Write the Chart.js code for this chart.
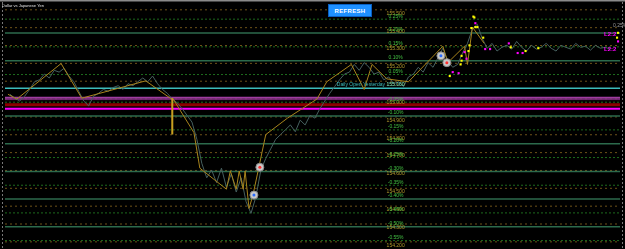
<!DOCTYPE html>
<html>
<head>
<meta charset="utf-8">
<script src="https://cdn.jsdelivr.net/npm/chart.js@4/dist/chart.umd.min.js"></script>
<style>
html,body{margin:0;padding:0;background:#000;overflow:hidden}
#wrap{position:relative;width:625px;height:249px}
#refresh{position:absolute;left:328px;top:4px;width:44px;height:13px;background:#1e90ff;color:#fff;
  font:bold 6px "Liberation Sans";text-align:center;line-height:13px;border:1px solid #0a5fc0;box-sizing:border-box;letter-spacing:0.3px}
</style>
</head>
<body>
<div id="wrap">
  <canvas id="chart" width="625" height="249"></canvas>
  <div id="refresh">REFRESH</div>
</div>
<script>
// USDJPY close prices, one every 5 time units starting at 5
const firstBar = 5, barStep = 5
const closePrices = [155.027,155.005,154.989,155.016,155.054,155.097,155.108,155.140,155.118,155.161,
  155.151,155.172,155.129,155.097,155.043,154.989,154.962,155.016,155.032,155.054,
  155.043,155.065,155.075,155.054,155.086,155.075,155.097,155.118,155.097,155.129,
  155.086,155.054,155.032,155.000,154.979,154.946,154.909,154.871,154.774,154.640,
  154.559,154.602,154.532,154.613,154.506,154.581,154.479,154.559,154.425,154.360,
  154.452,154.602,154.667,154.721,154.774,154.801,154.828,154.855,154.817,154.882,
  154.855,154.909,154.893,154.946,154.989,155.032,155.070,155.108,155.140,155.151,
  155.194,155.161,155.204,155.178,155.140,155.151,155.108,155.124,155.086,155.097,
  155.070,155.124,155.140,155.178,155.151,155.204,155.178,155.231,155.285,155.215,
  155.178,155.194,155.258,155.312,155.393,155.419,155.339,155.285,155.312,155.269,
  155.290,155.301,155.280,155.323,155.290,155.269,155.301,155.280,155.290,155.312,
  155.285,155.269,155.301,155.290,155.280,155.312,155.290,155.296,155.274,155.301,
  155.285,155.290,155.280]

// zigzag swing points
const zzTimes = [3,12,57,78,143,168,171,192,198,225,229,235,238,242,244,248,252,258,265,287,317,327,352,365,373,388,410,445,450,467,470,475,487]
const zzPrices = [155.027,155.000,155.199,155.005,155.102,155.005,155.000,154.812,154.613,154.495,154.597,154.495,154.597,154.495,154.597,154.387,154.462,154.618,154.801,154.893,155.000,155.097,155.194,155.054,155.194,155.113,155.097,155.296,155.204,155.296,155.194,155.403,155.312]

// spike bar
const spikeTimes = [170,170]
const spikePrices = [155.005,154.801]

// signal dots
const yellowTimes = [476,477,478,480,474,486,472,471,464,464,463,452,514,529,542,623,622]
const yellowPrices = [155.462,155.457,155.403,155.403,155.398,155.344,155.301,155.269,155.242,155.215,155.194,155.129,155.290,155.269,155.285,155.371,155.344]
const magentaTimes = [478,488,493,512,521,526,467,469,455,461,623]
const magentaPrices = [155.425,155.280,155.280,155.312,155.258,155.258,155.263,155.226,155.151,155.145,155.323]

// trade markers
const buyTimes = [443,253]
const buyPrices = [155.242,154.462]
const sellTimes = [449,259]
const sellPrices = [155.204,154.618]

// levels
const priceLevels = [155.5,155.4,155.3,155.2,155.1,155.0,154.9,154.8,154.7,154.6,154.5,154.4,154.3,154.2]
const dailyOpen = 155.060
const pctLevels = [0.25,0.20,0.15,0.10,0.05,-0.05,-0.10,-0.15,-0.20,-0.25,-0.30,-0.35,-0.40,-0.45,-0.50,-0.55]
const bandLevels = [155.008,154.997,154.968,154.946]
const bandColors = ['#a03ca0','#7a2a7a','#8c0000','#ff00ff']
const bandWidths = [2,1,3,2]

const xMin = 0, xMax = 625
const labelTime = 397

function pts(xs, ys){ return xs.map((x,i)=>({x:x, y:ys[i]})) }
function hline(y, color, width, dash){
  return {data:[{x:xMin,y:y},{x:xMax,y:y}], borderColor:color, borderWidth:width, borderDash:dash||[], pointRadius:0}
}

const datasets = []
datasets.push({data:pts(buyTimes,buyPrices), showLine:false, pointRadius:1.5, pointBackgroundColor:'#2a6cff', pointBorderWidth:0})
datasets.push({data:pts(sellTimes,sellPrices), showLine:false, pointRadius:1.5, pointBackgroundColor:'#ff3030', pointBorderWidth:0})
datasets.push({data:pts(buyTimes.concat(sellTimes),buyPrices.concat(sellPrices)), showLine:false, pointRadius:4, pointBackgroundColor:'#c8c8c8', pointBorderColor:'#8a8a8a', pointBorderWidth:1})
datasets.push({data:pts(yellowTimes,yellowPrices), showLine:false, pointStyle:'rect', pointRadius:1.5, pointBackgroundColor:'#ffff00', pointBorderWidth:0})
datasets.push({data:pts(magentaTimes,magentaPrices), showLine:false, pointStyle:'rect', pointRadius:1.5, pointBackgroundColor:'#ff00ff', pointBorderWidth:0})
datasets.push({data:pts(spikeTimes,spikePrices), borderColor:'#c8a020', borderWidth:2, pointRadius:0})
datasets.push({data:pts(zzTimes,zzPrices), borderColor:'#a8841c', borderWidth:1, pointRadius:0})
datasets.push({data:closePrices.map((p,i)=>({x:firstBar+i*barStep,y:p})), borderColor:'#46605f', borderWidth:1, pointRadius:0})
datasets.push(hline(dailyOpen,'#3cbcbc',1.5))
bandLevels.forEach((b,i)=>datasets.push(hline(b,bandColors[i],bandWidths[i])))
pctLevels.forEach(p=>{
  const lv = dailyOpen*(1+p/100)
  const whole = Math.abs(Math.round(p*100)) % 10 === 0
  if(whole) datasets.push(hline(lv,'#2c6a4c',1.5))
  else datasets.push(hline(lv,'#1d6a1d',1,[2,2]))
})
priceLevels.forEach(p=>datasets.push(hline(p,'#6e5218',1,[2,3])))

const textPlugin = {
  id:'texts',
  beforeDatasetsDraw(chart){
    const c = chart.ctx
    c.save()
    c.fillStyle = '#000'
    c.fillRect(0,0,625,249)
    c.restore()
  },
  afterDatasetsDraw(chart){
    const c = chart.ctx, xs = chart.scales.x, ys = chart.scales.y
    const lx = xs.getPixelForValue(labelTime)
    c.save()
    // frame bits
    c.fillStyle = '#8a8a8a'
    c.fillRect(0,0,625,1.5)
    c.strokeStyle = '#777'
    c.setLineDash([2,2])
    c.beginPath(); c.moveTo(2.5,2); c.lineTo(2.5,249); c.moveTo(622.5,2); c.lineTo(622.5,249); c.stroke()
    c.setLineDash([])
    c.textAlign = 'center'
    c.font = '5px "Liberation Sans"'
    priceLevels.forEach(p=>{
      c.fillStyle = '#b49a2c'
      c.textBaseline = 'top'
      c.fillText(p.toFixed(3), lx, ys.getPixelForValue(p)+1)
    })
    pctLevels.forEach(p=>{
      c.fillStyle = '#42c042'
      c.textBaseline = 'bottom'
      c.fillText(p.toFixed(2)+'%', lx, ys.getPixelForValue(dailyOpen*(1+p/100))-0.5)
    })
    c.textAlign = 'right'
    c.textBaseline = 'bottom'
    c.fillStyle = '#3cbcbc'
    c.fillText('Daily Open Yesterday '+dailyOpen.toFixed(3), xs.getPixelForValue(406), ys.getPixelForValue(dailyOpen)-1)
    c.textAlign = 'left'
    c.textBaseline = 'top'
    c.fillStyle = '#e0e0e0'
    c.font = '4px "Liberation Sans"'
    c.fillText('Dollar vs Japanese Yen', 2, 4)
    c.font = 'bold 6px "Liberation Sans"'
    c.fillStyle = '#ff00ff'
    c.fillText('L2:2', 604, 31)
    c.fillText('L2:2', 604, 46)
    c.font = '5px "Liberation Sans"'
    c.fillStyle = '#9a9a9a'
    c.fillText('0.25%', 613, 23)
    c.restore()
  }
}

new Chart(document.getElementById('chart'), {
  type:'line',
  data:{datasets:datasets},
  options:{
    responsive:false,
    animation:false,
    layout:{padding:0},
    plugins:{legend:{display:false}, tooltip:{enabled:false}},
    scales:{
      x:{type:'linear', min:xMin, max:xMax, display:false},
      y:{min:154.188, max:155.527, display:false}
    }
  },
  plugins:[textPlugin]
})
</script>
</body>
</html>
